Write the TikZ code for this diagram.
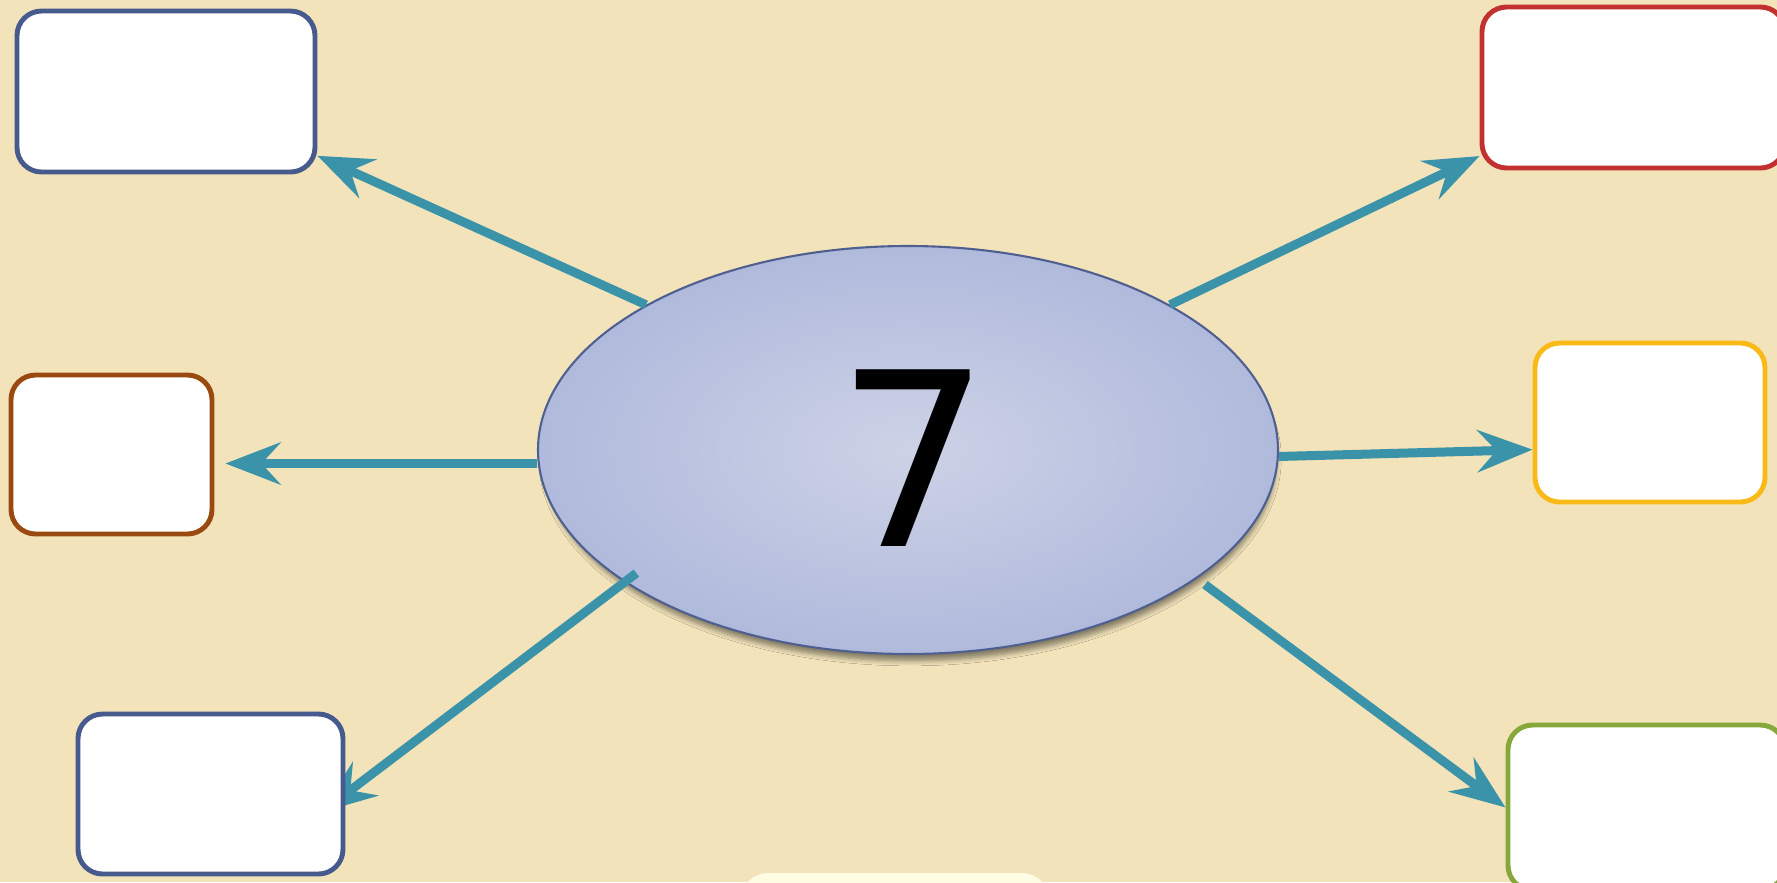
\documentclass[tikz,border=0pt]{standalone}
\usepackage{fontspec}
\setmainfont{DejaVu Sans}
\usetikzlibrary{arrows.meta,positioning,shapes.geometric,shadows.blur,backgrounds}
\definecolor{paperTan}{HTML}{F2E3BA}
\definecolor{arrowTeal}{HTML}{3A93A8}
\definecolor{boxBlue}{HTML}{475A8D}
\definecolor{boxBrown}{HTML}{9A4A10}
\definecolor{boxRed}{HTML}{C2302F}
\definecolor{boxYellow}{HTML}{F9B917}
\definecolor{boxGreen}{HTML}{86A83A}
\definecolor{hubEdge}{HTML}{4F5F8F}
\definecolor{hubIn}{HTML}{CDD2E6}
\definecolor{hubOut}{HTML}{B0BADC}
\definecolor{creamFill}{HTML}{FEFCE3}
\pgfdeclarelayer{links}
\pgfsetlayers{background,links,main}
\tikzset{
  mmBlue/.style={draw=boxBlue, fill=white, rounded corners=7pt, line width=1.4pt},
  mmBrown/.style={draw=boxBrown, fill=white, rounded corners=7pt, line width=1.4pt},
  mmRed/.style={draw=boxRed, fill=white, rounded corners=7pt, line width=1.4pt},
  mmYellow/.style={draw=boxYellow, fill=white, rounded corners=7pt, line width=1.4pt},
  mmGreen/.style={draw=boxGreen, fill=white, rounded corners=7pt, line width=1.4pt},
  mmCream/.style={fill=creamFill, rounded corners=8pt},
  %% Central ellipse
  mmHub/.style={ellipse, draw=hubEdge, line width=0.6pt, inner color=hubIn, outer color=hubOut,
    blur shadow={shadow xshift=0.2mm, shadow yshift=-0.9mm, shadow blur radius=0.5mm,
      shadow scale=0.99, shadow opacity=45, shadow blur steps=6},
    minimum width=7.40cm, minimum height=4.08cm, font=\fontsize{69}{69}\selectfont},
  %% Links
  mmarrow/.style={-{Stealth[length=5.5mm, width=4.2mm, inset=1.9mm]}, line width=0.09cm, draw=arrowTeal},
}

\begin{document}
\begin{tikzpicture}[x=1cm, y=1cm]
\useasboundingbox (0,0) rectangle (17.77,-8.82);
\begin{pgfonlayer}{background}
\fill[paperTan] (0,0) rectangle (17.77,-8.82);
%% Hub
\node[mmHub] (hub) at (9.08,-4.50) {\kern1.2mm\raisebox{0pt}[\dimexpr\height+1.6mm\relax][0pt]{7}};
\end{pgfonlayer}

%% Outer boxes
\node[mmBlue,   minimum width=2.98cm, minimum height=1.61cm] (tl) at ( 1.660,-0.915) {};
\node[mmBrown,  minimum width=2.01cm, minimum height=1.59cm] (ml) at ( 1.115,-4.545) {};
\node[mmBlue,   minimum width=2.65cm, minimum height=1.60cm] (bl) at ( 2.105,-7.940) {};
\node[mmRed,    minimum width=3.03cm, minimum height=1.61cm] (tr) at (16.335,-0.875) {};
\node[mmYellow, minimum width=2.30cm, minimum height=1.59cm] (mr) at (16.500,-4.225) {};
\node[mmGreen,  minimum width=2.77cm, minimum height=1.65cm] (br) at (16.465,-8.075) {};
\node[mmCream,  minimum width=3.10cm, minimum height=1.14cm] (bc) at ( 8.950,-9.300) {};

\coordinate (mlTip) at ([yshift=-0.9mm]ml.east);

%% Links from the hub
\begin{pgfonlayer}{links}
\draw[mmarrow] (hub.151) -- (tl.-23);
\draw[mmarrow] (hub.29) -- (tr.204);
\draw[mmarrow, shorten >=1.1mm] (hub.west |- mlTip) -- (mlTip);
\draw[mmarrow] (hub.-1.4) -- (mr.193);
\draw[mmarrow, shorten <=-1.5mm, shorten >=-3mm] (hub.205.5) -- (bl.east);
\draw[mmarrow, shorten <=1mm] (hub.-24.4) -- (br.west);
\end{pgfonlayer}

\end{tikzpicture}
\end{document}
